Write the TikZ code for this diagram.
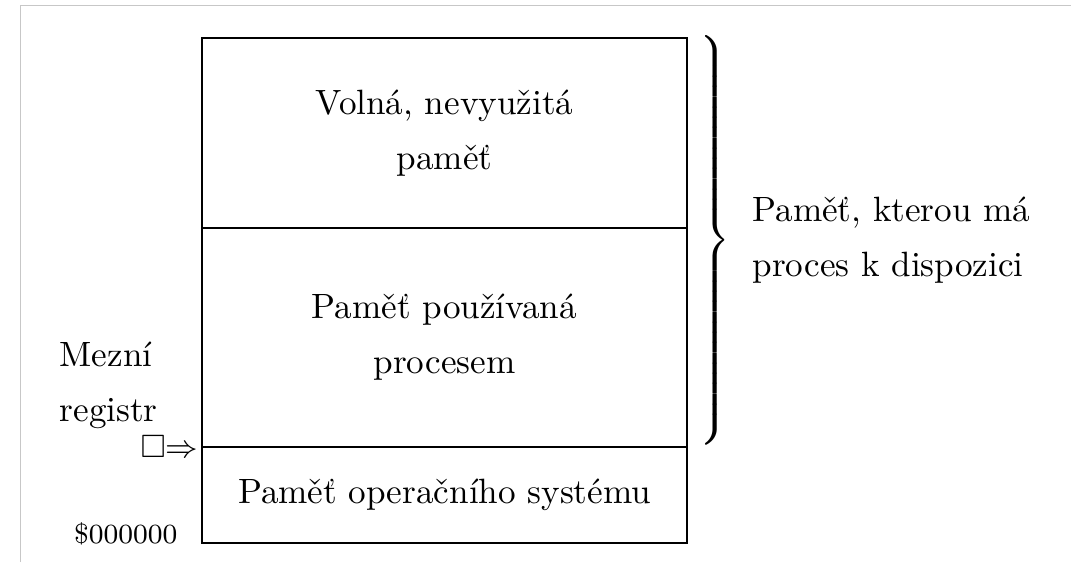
\documentclass[tikz,border=0pt]{standalone}
\usepackage{fontspec}
\usepackage{amssymb}
\usetikzlibrary{positioning,calc}
\tikzset{
  cell/.style={draw,line width=.4pt,minimum width=4.85cm,outer sep=0pt,inner sep=0pt,
    align=center,font=\fontsize{10}{15.6}\selectfont},
  side/.style={inner sep=0pt,align=left,font=\fontsize{10}{15.6}\selectfont},
  tag/.style={inner sep=0pt,font=\fontsize{7.9}{10}\selectfont},
}
\begin{document}
\begin{tikzpicture}
\useasboundingbox (0,0) rectangle (10.71,5.62);
\draw[black!22,line width=.3pt] (.207,0) |- (10.71,5.567);
% the three memory areas, stacked
\node[cell,minimum height=1.9cm] (free) at (4.445,4.29) {Volná, nevyužitá\\paměť};
\node[cell,minimum height=2.19cm,below=0pt of free] (used) {Paměť používaná\\procesem};
\node[cell,minimum height=.96cm,below=0pt of used] (os) {Paměť operačního systému};
\draw[line width=.6pt] (free.south west) -- (free.south east);
\draw[line width=.6pt] (used.south west) -- (used.south east);
% brace over free + used memory
\node[inner sep=0pt,anchor=west] (brace) at ([xshift=.08cm,yshift=.02cm]$(free.north east)!.5!(used.south east)$)
  {\scalebox{1}[.971]{$\delimitershortfall=0pt\delimiterfactor=1000\left.\vcenter{\hbox{\rule{0pt}{4.01cm}}}\right\}$}};
\node[side,right=.2cm of brace] (avail) {Paměť, kterou má\\proces k dispozici};
% limit register and base address
\node[side,anchor=west] (limit) at (.59,1.765) {Mezní\\registr};
\node[tag,font=\fontsize{9.2}{11}\selectfont,anchor=east] (ptr) at ([xshift=-.03cm]used.south west)
  {$\square\mathord{\Rightarrow}$};
\node[tag,anchor=base east] (zero) at ([xshift=-.24cm]os.south west) {\$000000};
\end{tikzpicture}
\end{document}
